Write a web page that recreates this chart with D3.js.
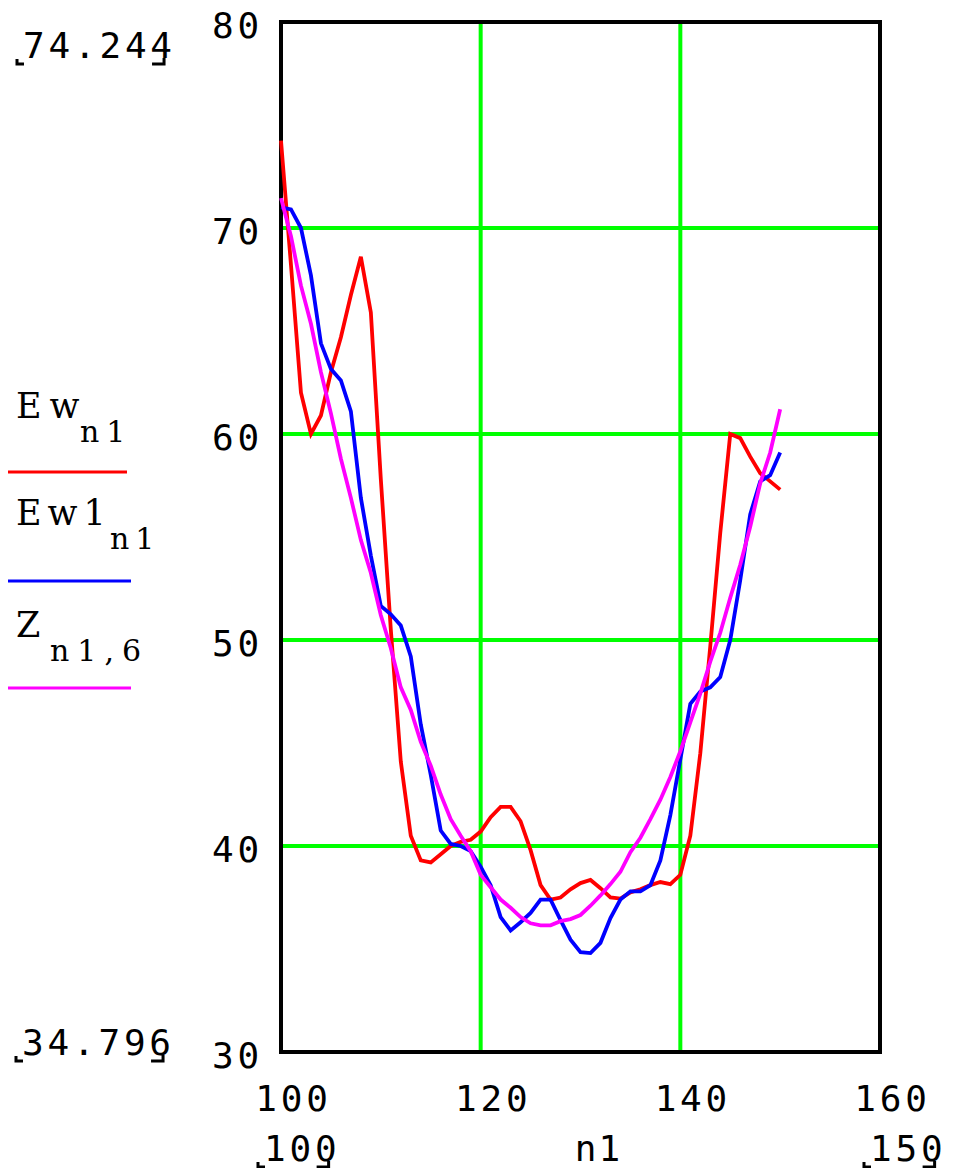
<!DOCTYPE html>
<html>
<head>
<meta charset="utf-8">
<script src="https://cdn.jsdelivr.net/npm/d3@7"></script>
<style>
  html, body { margin: 0; padding: 0; background: #fff; }
  svg { display: block; }
</style>
</head>
<body>
<svg id="chart" width="953" height="1168"></svg>
<script>
// ---------------- data ----------------
const n1 = [100,101,102,103,104,105,106,107,108,109,110,111,112,113,114,115,116,117,118,119,120,
            121,122,123,124,125,126,127,128,129,130,131,132,133,134,135,136,137,138,139,140,
            141,142,143,144,145,146,147,148,149,150];

const Ew = [74.24,68.2,62.0,60.0,60.9,63.0,64.7,66.75,68.6,65.9,57.8,
            50.5,44.1,40.5,39.3,39.2,39.6,40.0,40.2,40.3,40.7,
            41.4,41.9,41.9,41.2,39.8,38.1,37.4,37.5,37.9,38.2,
            38.35,37.95,37.5,37.45,37.75,37.9,38.1,38.25,38.15,38.6,
            40.5,44.5,49.7,55.2,60.0,59.8,58.9,58.1,57.7,57.3];

const Ew1 = [71.0,70.9,70.0,67.7,64.4,63.15,62.6,61.1,56.9,54.1,51.65,
             51.25,50.7,49.2,45.9,43.45,40.75,40.1,40.0,39.75,39.0,
             38.1,36.55,35.9,36.3,36.75,37.4,37.4,36.4,35.45,34.85,
             34.8,35.3,36.5,37.4,37.8,37.8,38.1,39.3,41.5,44.2,
             46.9,47.5,47.7,48.2,50.0,52.9,56.1,57.7,58.0,59.1];

const Z = [71.45,69.6,67.2,65.35,63.0,61.0,58.8,56.9,54.85,53.25,51.2,
           49.6,47.7,46.6,45.05,43.9,42.5,41.3,40.5,39.75,38.6,
           38.0,37.4,37.0,36.55,36.25,36.15,36.15,36.35,36.45,36.65,
           37.1,37.6,38.15,38.75,39.7,40.4,41.3,42.25,43.35,44.6,
           46.0,47.4,48.95,50.35,52.05,53.65,55.5,57.6,59.1,61.2];

const xTicks = [100,120,140,160];
const yTicks = [30,40,50,60,70,80];
const xGrid = [120,140];
const yGrid = [40,50,60,70];
const xLimits = ["100","150"];
const yLimits = ["34.796","74.244"];
const xTitle = "n1";

const seriesNames = ["Ew","Ew1","Z"];
const seriesSubs = ["n1","n1","n1,6"];
const seriesColors = ["#ff0000","#0000ff","#ff00ff"];
const seriesValues = [Ew, Ew1, Z];

// ---------------- layout ----------------
const svg = d3.select("#chart");
const L = 281, R = 880, T = 22, B = 1052;
const x = d3.scaleLinear().domain([100,160]).range([L,R]);
const y = d3.scaleLinear().domain([30,80]).range([B,T]);

const monoFont = "'DejaVu Sans Mono', 'Liberation Mono', monospace";
const serifFont = "'DejaVu Serif', 'Liberation Serif', serif";

svg.append("rect").attr("width",953).attr("height",1168).attr("fill","#fff");

// grid
svg.append("g").selectAll("line").data(xGrid).join("line")
  .attr("x1", d => x(d)).attr("x2", d => x(d))
  .attr("y1", T).attr("y2", B)
  .attr("stroke","#00ff00").attr("stroke-width",4);
svg.append("g").selectAll("line").data(yGrid).join("line")
  .attr("x1", L).attr("x2", R)
  .attr("y1", d => y(d)).attr("y2", d => y(d))
  .attr("stroke","#00ff00").attr("stroke-width",4);

// frame
svg.append("rect").attr("x",L).attr("y",T).attr("width",R-L).attr("height",B-T)
  .attr("fill","none").attr("stroke","#000").attr("stroke-width",4);

// axes (labels only)
const yAxis = svg.append("g").attr("transform",`translate(${L},0)`)
  .call(d3.axisLeft(y).tickValues(yTicks).tickSize(0).tickPadding(22).tickFormat(d3.format("d")));
yAxis.select(".domain").remove();
yAxis.selectAll("text")
  .attr("font-family", monoFont).attr("font-size", 36).attr("fill","#000")
  .attr("letter-spacing", 3.8).attr("dy", 15).attr("x", -18);

const xAxis = svg.append("g").attr("transform",`translate(0,${B})`)
  .call(d3.axisBottom(x).tickValues(xTicks).tickSize(0).tickFormat(d3.format("d")));
xAxis.select(".domain").remove();
xAxis.selectAll("text")
  .attr("font-family", monoFont).attr("font-size", 36).attr("fill","#000")
  .attr("letter-spacing", 3.8).attr("y", 59).attr("dy", 0).attr("x", 12);

// curves
const line = d3.line().x((d,i) => x(n1[i])).y(d => y(d));
seriesValues.forEach((vals, k) => {
  svg.append("path").datum(vals)
    .attr("d", line)
    .attr("fill","none")
    .attr("stroke", seriesColors[k])
    .attr("stroke-width", 3.8)
    .attr("stroke-linejoin","miter");
});

// limit labels with corner marks
function limitLabel(txt, x0, base) {
  const t = svg.append("text").attr("x", x0).attr("y", base)
    .attr("font-family", monoFont).attr("font-size", 36).attr("letter-spacing", 3.8)
    .attr("fill","#000").text(txt);
  const end = x0 + t.node().getComputedTextLength() - 3.8;
  svg.append("path")
    .attr("d", `M${x0-6},${base+1}V${base+6}H${x0+1}`)
    .attr("fill","none").attr("stroke","#000").attr("stroke-width",3);
  svg.append("path")
    .attr("d", `M${end-20},${base+6}H${end-8}V${base}`)
    .attr("fill","none").attr("stroke","#000").attr("stroke-width",3);
}
limitLabel(yLimits[1], 23, 58);
limitLabel(yLimits[0], 22, 1055);
limitLabel(xLimits[0], 264, 1161);
limitLabel(xLimits[1], 870, 1161);

// x title
svg.append("text").attr("x", x(130) + 18).attr("y", 1161).attr("text-anchor","middle")
  .attr("font-family", monoFont).attr("font-size", 36).attr("letter-spacing", 2)
  .attr("fill","#000").text(xTitle);

// legend
const legendPos = [
  {mainX: 16, subX: 80, base: 418, subBase: 442, lineY: 472, lineX2: 127, subLS: 7},
  {mainX: 16, subX: 110, base: 525, subBase: 549, lineY: 581, lineX2: 131, subLS: 6},
  {mainX: 16, subX: 50, base: 637, subBase: 661, lineY: 688, lineX2: 131, subLS: 8}
];
legendPos.forEach((g, k) => {
  svg.append("text").attr("x", g.mainX).attr("y", g.base)
    .attr("font-family", serifFont).attr("font-size", 35).attr("letter-spacing", k === 1 ? 6 : 8)
    .attr("fill","#000").text(seriesNames[k]);
  svg.append("text").attr("x", g.subX).attr("y", g.subBase)
    .attr("font-family", serifFont).attr("font-size", 30).attr("letter-spacing", g.subLS)
    .attr("fill","#000").text(seriesSubs[k]);
  svg.append("line").attr("x1", 8).attr("x2", g.lineX2)
    .attr("y1", g.lineY).attr("y2", g.lineY)
    .attr("stroke", seriesColors[k]).attr("stroke-width", 3);
});
</script>
</body>
</html>
